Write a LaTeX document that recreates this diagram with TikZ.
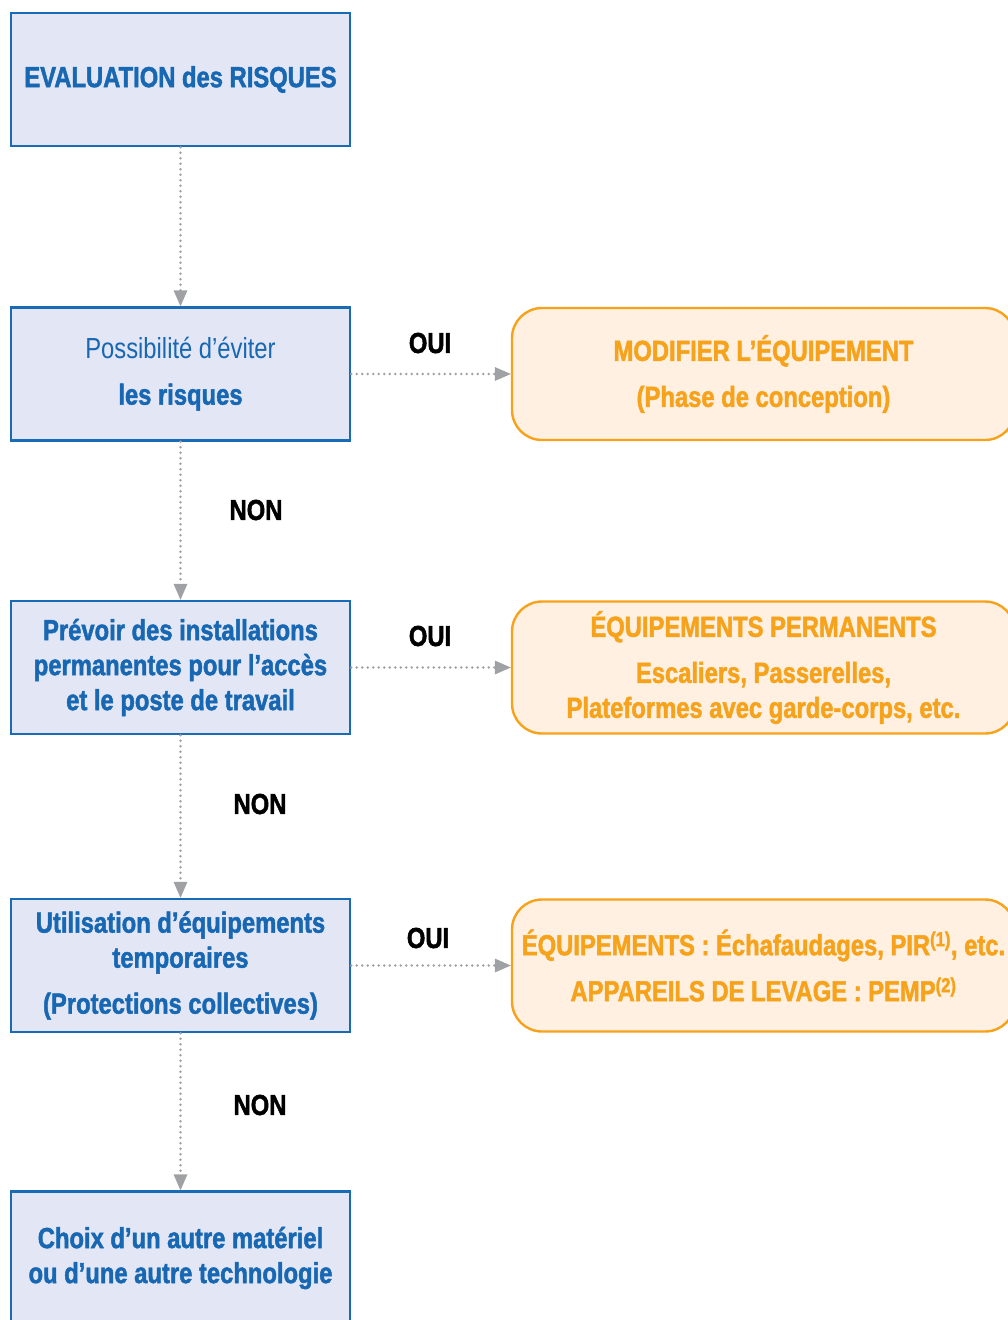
\documentclass[tikz,border=0pt]{standalone}
\usepackage{fontspec}
\setmainfont{Liberation Sans}[FakeStretch=0.82, BoldFeatures={FakeBold=1.6}]
\usetikzlibrary{arrows.meta}
\definecolor{bluetext}{HTML}{1767B3}
\definecolor{blueline}{HTML}{1A6BB5}
\definecolor{bluefill}{HTML}{E2E6F5}
\definecolor{orangeline}{HTML}{F7A21B}
\definecolor{orangefill}{HTML}{FFF0E1}
\definecolor{linkgray}{HTML}{A0A1A4}
\tikzset{
  x=1pt, y=-1pt,
  stepbox/.style={draw=blueline, line width=2.4pt, fill=bluefill,
    minimum width=339pt, minimum height=133pt, inner sep=0pt,
    text=bluetext, align=center, font=\fontsize{29}{35}\selectfont\bfseries},
  resultbox/.style={draw=orangeline, line width=2.4pt, fill=orangefill,
    rounded corners=30pt, minimum width=503pt, minimum height=132pt, inner sep=0pt,
    text=orangeline, align=center, font=\fontsize{29}{35}\selectfont\bfseries},
  link/.style={draw=linkgray, line width=2.8pt, line cap=round, dash pattern=on 0pt off 5.5pt,
    -{Triangle[length=16pt,width=14pt,fill=linkgray,line width=0pt]}, shorten >=0pt},
  answer/.style={font=\fontsize{29}{35}\selectfont\bfseries, text=black, inner sep=0pt}
}
\begin{document}
\begin{tikzpicture}
\useasboundingbox (0,0) rectangle (1008,1320);
% left column: decision steps
\node[stepbox] (eval) at (180.5,79.5) {EVALUATION des RISQUES};
\node[stepbox] (avoid) at (180.5,374) {\mdseries Possibilité d’éviter\\[11pt] les risques};
\node[stepbox] (perm) at (180.5,667.5) {Prévoir des installations\\ permanentes pour l’accès\\ et le poste de travail};
\node[stepbox] (temp) at (180.5,965.5) {Utilisation d’équipements\\ temporaires\\[11pt] (Protections collectives)};
\node[stepbox] (other) at (180.5,1258) {Choix d’un autre matériel\\ ou d’une autre technologie};
% right column: outcomes
\node[resultbox] (modify) at (763.5,374) {MODIFIER L’ÉQUIPEMENT\\[11pt] (Phase de conception)};
\node[resultbox] (permeq) at (763.5,667.5) {ÉQUIPEMENTS PERMANENTS\\[11pt] Escaliers, Passerelles,\\ Plateformes avec garde-corps, etc.};
\node[resultbox] (tempeq) at (763.5,965.5) {ÉQUIPEMENTS : Échafaudages, PIR\textsuperscript{(1)}, etc.\\[11pt] APPAREILS DE LEVAGE : PEMP\textsuperscript{(2)}};
% connectors
\draw[link] (eval.south) -- (avoid.north);
\draw[link] (avoid.south) -- (perm.north);
\draw[link] (perm.south) -- (temp.north);
\draw[link] (temp.south) -- (other.north);
\draw[link] (avoid.east) -- (modify.west);
\draw[link] (perm.east) -- (permeq.west);
\draw[link] (temp.east) -- (tempeq.west);
% answers
\node[answer] (oui1) at (430,343) {OUI};
\node[answer] (oui2) at (430,636) {OUI};
\node[answer] (oui3) at (428,938) {OUI};
\node[answer] (non1) at (256,510) {NON};
\node[answer] (non2) at (260,804) {NON};
\node[answer] (non3) at (260,1105) {NON};
\end{tikzpicture}
\end{document}
